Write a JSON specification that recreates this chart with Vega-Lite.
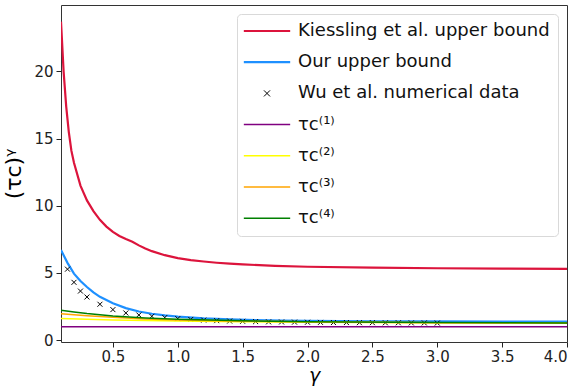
{
  "$schema": "https://vega.github.io/schema/vega-lite/v6.json",
  "width": 506,
  "height": 337,
  "autosize": {"type": "none"},
  "padding": {"left": 61, "top": 5, "right": 12, "bottom": 44},
  "background": "white",
  "config": {
    "font": "DejaVu Sans",
    "view": {"stroke": "#333", "strokeWidth": 1},
    "axis": {"grid": false, "domain": false, "tickColor": "#222", "tickSize": 5, "labelFontSize": 15, "labelColor": "#222", "labelPadding": 2, "titleColor": "#000", "titleFontWeight": "normal"},
    "legend": {"labelFontSize": 18, "labelColor": "#111", "labelFont": "DejaVu Sans"}
  },
  "datasets": {
    "curves": [
      {"series": "Kiessling et al. upper bound", "gamma": 0.1, "value": 23.7},
      {"series": "Kiessling et al. upper bound", "gamma": 0.12, "value": 20.0},
      {"series": "Kiessling et al. upper bound", "gamma": 0.14, "value": 17.4},
      {"series": "Kiessling et al. upper bound", "gamma": 0.16, "value": 15.5},
      {"series": "Kiessling et al. upper bound", "gamma": 0.18, "value": 14.1},
      {"series": "Kiessling et al. upper bound", "gamma": 0.2, "value": 13.2},
      {"series": "Kiessling et al. upper bound", "gamma": 0.25, "value": 11.5},
      {"series": "Kiessling et al. upper bound", "gamma": 0.3, "value": 10.4},
      {"series": "Kiessling et al. upper bound", "gamma": 0.35, "value": 9.6},
      {"series": "Kiessling et al. upper bound", "gamma": 0.4, "value": 8.95},
      {"series": "Kiessling et al. upper bound", "gamma": 0.45, "value": 8.45},
      {"series": "Kiessling et al. upper bound", "gamma": 0.5, "value": 8.05},
      {"series": "Kiessling et al. upper bound", "gamma": 0.55, "value": 7.75},
      {"series": "Kiessling et al. upper bound", "gamma": 0.6, "value": 7.52},
      {"series": "Kiessling et al. upper bound", "gamma": 0.65, "value": 7.32},
      {"series": "Kiessling et al. upper bound", "gamma": 0.7, "value": 7.05},
      {"series": "Kiessling et al. upper bound", "gamma": 0.75, "value": 6.82},
      {"series": "Kiessling et al. upper bound", "gamma": 0.8, "value": 6.62},
      {"series": "Kiessling et al. upper bound", "gamma": 0.9, "value": 6.32},
      {"series": "Kiessling et al. upper bound", "gamma": 1.0, "value": 6.1},
      {"series": "Kiessling et al. upper bound", "gamma": 1.1, "value": 5.95},
      {"series": "Kiessling et al. upper bound", "gamma": 1.2, "value": 5.85},
      {"series": "Kiessling et al. upper bound", "gamma": 1.3, "value": 5.76},
      {"series": "Kiessling et al. upper bound", "gamma": 1.4, "value": 5.69},
      {"series": "Kiessling et al. upper bound", "gamma": 1.5, "value": 5.63},
      {"series": "Kiessling et al. upper bound", "gamma": 1.75, "value": 5.53},
      {"series": "Kiessling et al. upper bound", "gamma": 2.0, "value": 5.46},
      {"series": "Kiessling et al. upper bound", "gamma": 2.5, "value": 5.39},
      {"series": "Kiessling et al. upper bound", "gamma": 3.0, "value": 5.35},
      {"series": "Kiessling et al. upper bound", "gamma": 3.5, "value": 5.32},
      {"series": "Kiessling et al. upper bound", "gamma": 4.0, "value": 5.3},
      {"series": "Our upper bound", "gamma": 0.1, "value": 6.7},
      {"series": "Our upper bound", "gamma": 0.15, "value": 5.75},
      {"series": "Our upper bound", "gamma": 0.2, "value": 4.95},
      {"series": "Our upper bound", "gamma": 0.25, "value": 4.4},
      {"series": "Our upper bound", "gamma": 0.3, "value": 3.95},
      {"series": "Our upper bound", "gamma": 0.35, "value": 3.55},
      {"series": "Our upper bound", "gamma": 0.4, "value": 3.22},
      {"series": "Our upper bound", "gamma": 0.5, "value": 2.74},
      {"series": "Our upper bound", "gamma": 0.6, "value": 2.38},
      {"series": "Our upper bound", "gamma": 0.7, "value": 2.13},
      {"series": "Our upper bound", "gamma": 0.8, "value": 1.96},
      {"series": "Our upper bound", "gamma": 0.9, "value": 1.84},
      {"series": "Our upper bound", "gamma": 1.0, "value": 1.75},
      {"series": "Our upper bound", "gamma": 1.2, "value": 1.62},
      {"series": "Our upper bound", "gamma": 1.4, "value": 1.54},
      {"series": "Our upper bound", "gamma": 1.6, "value": 1.49},
      {"series": "Our upper bound", "gamma": 1.8, "value": 1.45},
      {"series": "Our upper bound", "gamma": 2.0, "value": 1.43},
      {"series": "Our upper bound", "gamma": 2.5, "value": 1.4},
      {"series": "Our upper bound", "gamma": 3.0, "value": 1.39},
      {"series": "Our upper bound", "gamma": 3.5, "value": 1.38},
      {"series": "Our upper bound", "gamma": 4.0, "value": 1.37},
      {"series": "τc⁽¹⁾", "gamma": 0.1, "value": 1.0},
      {"series": "τc⁽¹⁾", "gamma": 4.0, "value": 1.0},
      {"series": "τc⁽²⁾", "gamma": 0.1, "value": 1.6},
      {"series": "τc⁽²⁾", "gamma": 0.5, "value": 1.5},
      {"series": "τc⁽²⁾", "gamma": 1.0, "value": 1.42},
      {"series": "τc⁽²⁾", "gamma": 1.5, "value": 1.37},
      {"series": "τc⁽²⁾", "gamma": 2.0, "value": 1.33},
      {"series": "τc⁽²⁾", "gamma": 3.0, "value": 1.29},
      {"series": "τc⁽²⁾", "gamma": 4.0, "value": 1.26},
      {"series": "τc⁽³⁾", "gamma": 0.1, "value": 1.97},
      {"series": "τc⁽³⁾", "gamma": 0.3, "value": 1.82},
      {"series": "τc⁽³⁾", "gamma": 0.5, "value": 1.7},
      {"series": "τc⁽³⁾", "gamma": 0.75, "value": 1.58},
      {"series": "τc⁽³⁾", "gamma": 1.0, "value": 1.5},
      {"series": "τc⁽³⁾", "gamma": 1.5, "value": 1.41},
      {"series": "τc⁽³⁾", "gamma": 2.0, "value": 1.36},
      {"series": "τc⁽³⁾", "gamma": 3.0, "value": 1.3},
      {"series": "τc⁽³⁾", "gamma": 4.0, "value": 1.27},
      {"series": "τc⁽⁴⁾", "gamma": 0.1, "value": 2.22},
      {"series": "τc⁽⁴⁾", "gamma": 0.2, "value": 2.1},
      {"series": "τc⁽⁴⁾", "gamma": 0.3, "value": 1.98},
      {"series": "τc⁽⁴⁾", "gamma": 0.5, "value": 1.8},
      {"series": "τc⁽⁴⁾", "gamma": 0.75, "value": 1.65},
      {"series": "τc⁽⁴⁾", "gamma": 1.0, "value": 1.55},
      {"series": "τc⁽⁴⁾", "gamma": 1.5, "value": 1.44},
      {"series": "τc⁽⁴⁾", "gamma": 2.0, "value": 1.37},
      {"series": "τc⁽⁴⁾", "gamma": 3.0, "value": 1.31},
      {"series": "τc⁽⁴⁾", "gamma": 4.0, "value": 1.28}
    ],
    "wu": [
      {"series": "Wu et al. numerical data", "gamma": 0.15, "value": 5.28},
      {"series": "Wu et al. numerical data", "gamma": 0.2, "value": 4.3},
      {"series": "Wu et al. numerical data", "gamma": 0.25, "value": 3.65},
      {"series": "Wu et al. numerical data", "gamma": 0.3, "value": 3.21},
      {"series": "Wu et al. numerical data", "gamma": 0.4, "value": 2.67},
      {"series": "Wu et al. numerical data", "gamma": 0.5, "value": 2.27},
      {"series": "Wu et al. numerical data", "gamma": 0.6, "value": 2.02},
      {"series": "Wu et al. numerical data", "gamma": 0.7, "value": 1.87},
      {"series": "Wu et al. numerical data", "gamma": 0.8, "value": 1.77},
      {"series": "Wu et al. numerical data", "gamma": 0.9, "value": 1.68},
      {"series": "Wu et al. numerical data", "gamma": 1.0, "value": 1.6},
      {"series": "Wu et al. numerical data", "gamma": 1.1, "value": 1.54},
      {"series": "Wu et al. numerical data", "gamma": 1.2, "value": 1.49},
      {"series": "Wu et al. numerical data", "gamma": 1.3, "value": 1.45},
      {"series": "Wu et al. numerical data", "gamma": 1.4, "value": 1.42},
      {"series": "Wu et al. numerical data", "gamma": 1.5, "value": 1.4},
      {"series": "Wu et al. numerical data", "gamma": 1.6, "value": 1.38},
      {"series": "Wu et al. numerical data", "gamma": 1.7, "value": 1.36},
      {"series": "Wu et al. numerical data", "gamma": 1.8, "value": 1.35},
      {"series": "Wu et al. numerical data", "gamma": 1.9, "value": 1.34},
      {"series": "Wu et al. numerical data", "gamma": 2.0, "value": 1.33},
      {"series": "Wu et al. numerical data", "gamma": 2.1, "value": 1.32},
      {"series": "Wu et al. numerical data", "gamma": 2.2, "value": 1.31},
      {"series": "Wu et al. numerical data", "gamma": 2.3, "value": 1.31},
      {"series": "Wu et al. numerical data", "gamma": 2.4, "value": 1.3},
      {"series": "Wu et al. numerical data", "gamma": 2.5, "value": 1.3},
      {"series": "Wu et al. numerical data", "gamma": 2.6, "value": 1.29},
      {"series": "Wu et al. numerical data", "gamma": 2.7, "value": 1.29},
      {"series": "Wu et al. numerical data", "gamma": 2.8, "value": 1.28},
      {"series": "Wu et al. numerical data", "gamma": 2.9, "value": 1.28},
      {"series": "Wu et al. numerical data", "gamma": 3.0, "value": 1.27}
    ]
  },
  "encoding": {
    "x": {"field": "gamma", "type": "quantitative", "scale": {"domain": [0.1, 4.0], "nice": false, "zero": false},
      "axis": {"values": [0.5, 1.0, 1.5, 2.0, 2.5, 3.0, 3.5, 4.0], "format": ".1f", "title": "γ", "titleFontSize": 19, "titleFontStyle": "italic", "titleBaseline": "top", "titleY": 24}},
    "y": {"field": "value", "type": "quantitative", "scale": {"domain": [-0.14, 24.94], "nice": false, "zero": false},
      "axis": {"values": [0, 5, 10, 15, 20], "title": "(τc)ᵞ", "titleFontSize": 22, "titlePadding": 8, "labelPadding": 3}},
    "color": {"field": "series", "type": "nominal",
      "scale": {"domain": ["Kiessling et al. upper bound", "Our upper bound", "Wu et al. numerical data", "τc⁽¹⁾", "τc⁽²⁾", "τc⁽³⁾", "τc⁽⁴⁾"],
        "range": ["#DC143C", "#1E90FF", "#000000", "#800080", "#FFFF00", "#FFA500", "#008000"]},
      "legend": {"title": null, "orient": "top-right", "offset": 9, "padding": 8, "rowPadding": 13.2,
        "strokeColor": "#d9d9d9", "fillColor": "rgba(255,255,255,0.85)", "cornerRadius": 4,
        "symbolSize": 231, "symbolOffset": 13, "labelOffset": 22, "labelLimit": 400,
        "encode": {"symbols": {"update": {
          "shape": {"signal": "datum.value === 'Wu et al. numerical data' ? 'M-0.4,-0.4L0.4,0.4M-0.4,0.4L0.4,-0.4' : 'M-3.05,0H3.05'"},
          "strokeWidth": {"signal": "(datum.value === 'Kiessling et al. upper bound' || datum.value === 'Our upper bound') ? 2.2 : (datum.value === 'Wu et al. numerical data' ? 1 : 1.5)"},
          "fill": {"value": "transparent"}
        }}}}
    }
  },
  "layer": [
    {
      "data": {"name": "curves"},
      "transform": [{"filter": {"field": "series", "oneOf": ["Kiessling et al. upper bound", "Our upper bound"]}}],
      "mark": {"type": "line", "strokeWidth": 2.2, "clip": true}
    },
    {
      "data": {"name": "wu"},
      "mark": {"type": "point", "shape": "M-1,-1L1,1M-1,1L1,-1", "size": 25, "filled": false, "strokeWidth": 1, "opacity": 1, "clip": true}
    },
    {
      "data": {"name": "curves"},
      "transform": [{"filter": {"field": "series", "oneOf": ["τc⁽¹⁾", "τc⁽²⁾", "τc⁽³⁾", "τc⁽⁴⁾"]}}],
      "mark": {"type": "line", "strokeWidth": 1.5, "clip": true}
    }
  ]
}
